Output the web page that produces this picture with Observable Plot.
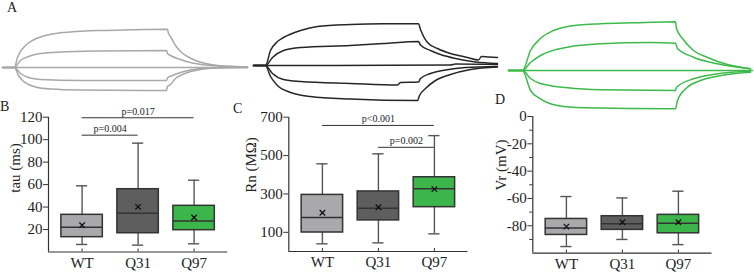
<!DOCTYPE html>
<html>
<head>
<meta charset="utf-8">
<script src="https://cdn.jsdelivr.net/npm/d3@7"></script>
<script src="https://cdn.jsdelivr.net/npm/@observablehq/plot@0.6"></script>
<style>
  body { margin: 0; background: #fff; }
  #fig { position: relative; width: 754px; height: 272px; overflow: hidden;
         font-family: "Liberation Serif", "Times New Roman", serif; color: #222; }
  #fig > .panel { position: absolute; }
  .letter { position: absolute; font-size: 14px; line-height: 1; }
  .ytitle { position: absolute; font-size: 15px; line-height: 1; white-space: nowrap;
            transform: translate(-50%, -50%) rotate(-90deg); }
</style>
</head>
<body>
<div id="fig"></div>
<script>
// ---- Panel A: voltage responses to current steps (time in ms, ΔV in mV) ----
const wtTraces = [
  [[0, 0], [490, 0]],
  [[0, 0], [24, 0], [30, 5], [36, 8], [46, 11], [60, 13.5], [76, 15.25], [106, 17], [136, 17.75], [196, 18.5], [256, 18.85], [330, 19.1], [332, 17], [336, 15.5], [346, 11], [356, 8], [370, 5.5], [386, 3.5], [406, 2], [430, 1], [466, 0.5], [490, 0.25]],
  [[0, 0], [24, 0], [36, 3.5], [52, 5.5], [76, 7], [116, 7.75], [196, 8.25], [328, 8.5], [330, 7], [336, 6], [356, 4], [376, 2.5], [406, 1.25], [456, 0.5], [490, 0.2]],
  [[0, 0], [24, 0], [36, -3], [52, -5], [76, -6], [156, -6.5], [328, -6.5], [330, -5.25], [340, -4], [356, -2.5], [376, -1.25], [406, -0.25], [456, 0], [490, 0]],
  [[0, 0], [24, 0], [32, -4], [40, -6.5], [52, -8.5], [66, -9.75], [96, -10.75], [156, -11.25], [328, -11.5], [330, -9.5], [336, -8.5], [346, -5.5], [360, -3.5], [376, -2], [396, -1], [426, -0.25], [466, 0], [490, 0]]
];
const q31Traces = [
  [[0, 0], [394, 0.25], [404, 0.75], [488, 0.5]],
  [[0, 0], [24, 0], [34, 7.5], [48, 12], [60, 14], [94, 17.5], [128, 19.5], [194, 20.5], [260, 20.85], [330, 20.85], [334, 18], [348, 11.5], [368, 8.5], [394, 6], [428, 4], [450, 2.75], [456, 4.5], [470, 4.25], [488, 4]],
  [[0, 0], [24, 0], [38, 4], [60, 7.5], [94, 9], [194, 10], [260, 11], [330, 12], [334, 10.25], [354, 7.5], [374, 5.5], [404, 3.5], [444, 1.75], [488, 1]],
  [[0, 0], [24, 0], [38, -4], [60, -7], [94, -8], [194, -9], [288, -9.75], [294, -8.5], [330, -8.25], [334, -6.5], [354, -4], [384, -2.25], [424, -1], [488, -0.5]],
  [[0, 0], [24, 0], [34, -5.5], [48, -10], [74, -13.5], [114, -15.5], [194, -16.75], [328, -17.5], [332, -15], [344, -11.5], [364, -7.5], [394, -4.5], [434, -2], [488, -0.75]]
];
const q97Traces = [
  [[0, 0], [488, 0]],
  [[0, 0], [28, 0], [44, 10], [64, 16], [90, 20], [118, 22], [184, 23.35], [250, 23.85], [334, 24.35], [336, 21], [348, 16], [370, 10], [398, 6.5], [438, 3], [484, 0.85]],
  [[0, 0], [28, 0], [44, 4], [64, 7.5], [118, 11.65], [184, 13.35], [284, 14], [334, 13.65], [338, 11], [370, 6.65], [418, 3.35], [484, 0.85]],
  [[0, 0], [28, 0], [44, -4], [64, -6.5], [118, -8.65], [184, -9.65], [334, -10], [336, -8.35], [370, -4.15], [418, -1.65], [484, -0.35]],
  [[0, 0], [28, 0], [44, -10], [64, -14.15], [98, -17.5], [150, -18.65], [334, -19.15], [338, -15], [358, -8.35], [384, -5], [438, -2], [484, -0.85]]
];

// ---- Panels B–D: box summaries per genotype ----
const groups = ["WT", "Q31", "Q97"];
const groupColors = ["#a9a9ab", "#5e5e5e", "#3cb64a"];

const tauLow = [6.7, 6.1, 7.3];
const tauQ1 = [13.2, 16.7, 19.4];
const tauMedian = [22.1, 34.5, 27.7];
const tauQ3 = [33.1, 55.9, 41.1];
const tauHigh = [58.9, 96.9, 63.9];
const tauMean = [23.9, 40.2, 30.7];
const tauTicks = [20, 40, 60, 80, 100, 120];
const tauSigFrom = ["WT", "WT"];
const tauSigTo = ["Q31", "Q97"];
const tauSigLevel = [104, 119.5];
const tauSigText = ["p=0.004", "p=0.017"];

const rnLow = [40, 45, 92];
const rnQ1 = [99, 162, 231];
const rnMedian = [177, 226, 327];
const rnQ3 = [295, 313, 387];
const rnHigh = [457, 509, 604];
const rnMean = [202, 231, 325];
const rnTicks = [100, 300, 500, 700];
const rnSigFrom = ["WT", "Q31"];
const rnSigTo = ["Q97", "Q97"];
const rnSigLevel = [657, 543];
const rnSigText = ["p<0.001", "p=0.002"];

const vrLow = [-95.2, -90, -93.8];
const vrQ1 = [-86.7, -83, -85.5];
const vrMedian = [-81.6, -78.6, -78.1];
const vrQ3 = [-75, -73, -72];
const vrHigh = [-58.6, -59.6, -54.7];
const vrMean = [-80.6, -77.4, -77.4];
const vrTicks = [0, -20, -40, -60, -80];
const vrMinorTicks = [-10, -30, -50, -70, -90];

const fig = document.getElementById("fig");
const baseStyle = {
  background: "transparent", overflow: "visible", fontFamily: "Liberation Serif, serif",
  fontSize: "15px", color: "#222", maxWidth: "none"
};

function place(node, left, top) {
  node.classList.add("panel");
  node.style.left = left + "px";
  node.style.top = top + "px";
  fig.appendChild(node);
}

function tracePlot(traces, color) {
  const rows = traces.flatMap((tr, k) => tr.map(([t, v]) => ({t, v, k})));
  return Plot.plot({
    width: 245, height: 100, margin: 0,
    x: {domain: [0, 490], axis: null},
    y: {domain: [-25, 25], axis: null},
    style: baseStyle,
    marks: [
      Plot.line(rows, {x: "t", y: "v", z: "k", stroke: color, strokeWidth: 1.5, curve: "monotone-x"})
    ]
  });
}

function boxPlot(o) {
  const half = 0.37, cap = 0.1;
  const rows = groups.map((g, i) => ({
    i: i + 1, low: o.low[i], q1: o.q1[i], med: o.median[i], q3: o.q3[i],
    high: o.high[i], mean: o.mean[i], fill: groupColors[i]
  }));
  const pos = g => groups.indexOf(g) + 1;
  const sig = (o.sigText || []).map((s, j) => ({
    a: pos(o.sigFrom[j]), b: pos(o.sigTo[j]), y: o.sigLevel[j], s
  }));
  const whisk = "#555", edge = "#333";
  const marks = [
    Plot.ruleX(rows, {x: "i", y1: "low", y2: "q1", stroke: whisk, strokeWidth: 1.4}),
    Plot.ruleX(rows, {x: "i", y1: "q3", y2: "high", stroke: whisk, strokeWidth: 1.4}),
    Plot.ruleY(rows, {y: "low", x1: d => d.i - cap, x2: d => d.i + cap, stroke: whisk, strokeWidth: 1.4}),
    Plot.ruleY(rows, {y: "high", x1: d => d.i - cap, x2: d => d.i + cap, stroke: whisk, strokeWidth: 1.4}),
    Plot.rect(rows, {x1: d => d.i - half, x2: d => d.i + half, y1: "q1", y2: "q3", fill: "fill", stroke: edge, strokeWidth: 1.5}),
    Plot.ruleY(rows, {y: "med", x1: d => d.i - half, x2: d => d.i + half, stroke: edge, strokeWidth: 1.5}),
    Plot.dot(rows, {x: "i", y: "mean", symbol: "times", r: 2.6, stroke: "#111", strokeWidth: 1.3}),
    Plot.ruleX([0.4], {stroke: "#333", strokeWidth: 1.2}),
    Plot.ruleY([o.domain[0]], {stroke: "#333", strokeWidth: 1.2}),
    Plot.axisY(o.ticks, {tickSize: 5, tickPadding: 1, tickFormat: d => String(d), stroke: "#333"}),
    Plot.axisX([1, 2, 3], {tickSize: 3, dy: -3, tickFormat: () => "", stroke: "#333"}),
    Plot.axisX([1, 2, 3], {tickSize: 0, tickPadding: 5, tickFormat: i => groups[i - 1]})
  ];
  if (o.minor) marks.push(Plot.axisY(o.minor, {tickSize: 3, tickFormat: () => "", stroke: "#333"}));
  if (sig.length) {
    marks.push(
      Plot.ruleY(sig, {y: "y", x1: "a", x2: "b", stroke: "#333", strokeWidth: 1}),
      Plot.text(sig, {x: d => (d.a + d.b) / 2, y: "y", text: "s", dy: -3, lineAnchor: "bottom", fontSize: 10, fill: "#222"})
    );
  }
  return Plot.plot({
    width: 240, height: 172,
    marginLeft: o.marginLeft, marginRight: 240 - o.marginLeft - 179.2,
    marginTop: o.marginTop, marginBottom: o.marginBottom,
    x: {domain: [0.4, 3.6], label: null},
    y: {domain: o.domain, label: null},
    color: {type: "identity"},
    style: baseStyle,
    marks
  });
}

place(boxPlot({
  low: tauLow, q1: tauQ1, median: tauMedian, q3: tauQ3, high: tauHigh, mean: tauMean,
  ticks: tauTicks, domain: [0, 120], marginLeft: 48, marginTop: 16.7, marginBottom: 20.5,
  sigFrom: tauSigFrom, sigTo: tauSigTo, sigLevel: tauSigLevel, sigText: tauSigText
}), 0, 100);

place(boxPlot({
  low: rnLow, q1: rnQ1, median: rnMedian, q3: rnQ3, high: rnHigh, mean: rnMean,
  ticks: rnTicks, domain: [0, 700], marginLeft: 48.3, marginTop: 16.7, marginBottom: 21,
  sigFrom: rnSigFrom, sigTo: rnSigTo, sigLevel: rnSigLevel, sigText: rnSigText
}), 240, 100);

place(boxPlot({
  low: vrLow, q1: vrQ1, median: vrMedian, q3: vrQ3, high: vrHigh, mean: vrMean,
  ticks: vrTicks, minor: vrMinorTicks, domain: [-100, 0], marginLeft: 42.3, marginTop: 16, marginBottom: 19.4
}), 490, 100);

place(tracePlot(wtTraces, "#a8a8a8"), 2, 17);
place(tracePlot(q31Traces, "#262626"), 253, 15);
place(tracePlot(q97Traces, "#3dbb4a"), 508, 20);

// Panel letters and axis titles
function addText(cls, text, left, top) {
  const el = document.createElement("div");
  el.className = cls;
  el.textContent = text;
  el.style.left = left + "px";
  el.style.top = top + "px";
  fig.appendChild(el);
}
addText("letter", "A", 7, 1);
addText("letter", "B", 0, 100);
addText("letter", "C", 233, 102);
addText("letter", "D", 495, 93);
addText("ytitle", "tau (ms)", 15, 168);
addText("ytitle", "Rn (MΩ)", 251, 165);
addText("ytitle", "Vr (mV)", 501, 165);
</script>
</body>
</html>
